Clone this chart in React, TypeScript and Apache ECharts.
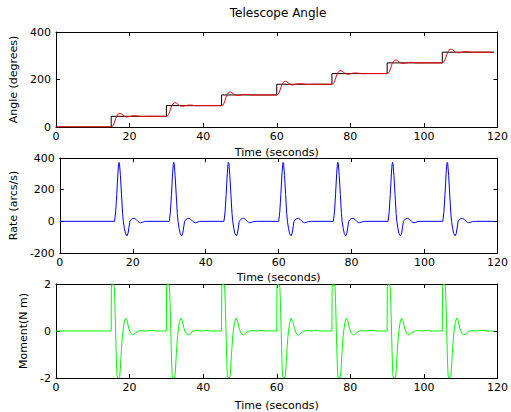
import React, { useEffect, useRef } from "react";
import * as echarts from "echarts";

// Step commands (seconds) and commanded angle levels (degrees)
const stepTimes = [15, 30, 45, 60, 75, 90, 105];
const stepLevels = [0, 45, 90, 135, 180, 225, 270, 315];
const endTime = 119;

// Angle response after each step: time since step, rise above previous level (degrees)
const angleDt = [0, 0.3, 0.6, 0.9, 1.2, 1.5, 1.8, 2.1, 2.4, 2.8, 3.2, 3.6, 4.0, 4.4, 5.0, 5.7, 6.4, 7.1, 7.8, 8.6, 9.5];
const angleRise = [0, 2, 8, 20, 35, 46, 53, 56.5, 57.5, 55, 50, 45.5, 43, 42.5, 44, 46.5, 47.5, 46.5, 45, 44.5, 45];

// Rate pulse after each step: time since step, rate (arcs/s)
const rateDt = [0, 0.3, 0.6, 0.9, 1.1, 1.2, 1.35, 1.6, 1.9, 2.2, 2.4, 2.7, 3.0, 3.4, 3.7, 4.0, 4.2, 4.6, 5.0, 5.4, 5.9, 6.4, 6.8, 7.1, 7.6, 8.2, 9.0];
const rateVal = [0, 60, 170, 300, 360, 372, 365, 290, 170, 50, 0, -45, -78, -92, -75, -30, 0, 12, 18, 19, 12, 0, -7, -9, -6, -1, 0];

// Moment pulse after each step: time since step, moment (N m)
const momentDt = [0, 0.05, 0.15, 0.4, 0.7, 0.85, 1.0, 1.2, 1.4, 1.55, 1.7, 2.0, 2.3, 2.45, 2.7, 3.0, 3.2, 3.5, 3.9, 4.3, 4.8, 5.3, 5.9, 6.5, 7.2, 8.0, 9.5, 11.0, 12.0, 13.0];
const momentVal = [0, 1.85, 1.97, 2.0, 1.97, 1.85, 1.2, 0, -1.2, -1.85, -1.98, -2.0, -1.95, -1.7, -1.0, -0.3, 0, 0.35, 0.55, 0.45, 0.1, -0.1, -0.17, -0.1, -0.02, 0.02, 0.0, 0.03, 0.0, 0.0];

const xTicks = { min: 0, max: 120, interval: 20 };
const angleAxis = { min: 0, max: 400, interval: 200 };
const rateAxis = { min: -200, max: 400, interval: 200 };
const momentAxis = { min: -2, max: 2, interval: 2 };

const FONT = "DejaVu Sans";

function buildCommand(): number[][] {
  const pts: number[][] = [[0, stepLevels[0]]];
  stepTimes.forEach((t, i) => {
    pts.push([t, stepLevels[i]]);
    pts.push([t, stepLevels[i + 1]]);
  });
  pts.push([endTime, stepLevels[stepLevels.length - 1]]);
  return pts;
}

function buildAngle(): number[][] {
  const pts: number[][] = [[0, stepLevels[0]]];
  stepTimes.forEach((t, i) => {
    angleDt.forEach((d, j) => pts.push([t + d, stepLevels[i] + angleRise[j]]));
  });
  pts.push([endTime, stepLevels[stepLevels.length - 1]]);
  return pts;
}

function buildPulse(dts: number[], vals: number[]): number[][] {
  const pts: number[][] = [[0, 0]];
  stepTimes.forEach((t) => {
    dts.forEach((d, j) => pts.push([t + d, vals[j]]));
  });
  pts.push([endTime, 0]);
  return pts;
}

const grids = [
  { left: 56, right: 11, top: 32, height: 95 },
  { left: 56, right: 11, top: 158, height: 95 },
  { left: 56, right: 11, top: 284, height: 94 },
];

const yNames = ["Angle (degrees)", "Rate (arcs/s)", "Moment(N m)"];
const yGaps = [30, 38, 19];
const xGaps = [20, 19, 22];
const yRanges = [angleAxis, rateAxis, momentAxis];

export default function App() {
  const ref = useRef<HTMLDivElement>(null);
  useEffect(() => {
    if (!ref.current) return;
    const chart = echarts.init(ref.current, undefined, { renderer: "svg" });
    const txt = { color: "#000", fontFamily: FONT, fontSize: 11 };
    const lineStyle = { color: "#000", width: 1 };
    const xAxes: any[] = [];
    const yAxes: any[] = [];
    grids.forEach((_, i) => {
      xAxes.push({
        type: "value", gridIndex: i, position: "bottom", ...xTicks,
        axisLine: { show: true, onZero: false, lineStyle },
        axisTick: { show: true, inside: true, length: 4, lineStyle },
        axisLabel: { ...txt, margin: 4 },
        splitLine: { show: false },
        name: "Time (seconds)", nameLocation: "middle", nameGap: xGaps[i],
        nameTextStyle: txt,
      });
      xAxes.push({
        type: "value", gridIndex: i, position: "top", ...xTicks,
        axisLine: { show: true, onZero: false, lineStyle },
        axisTick: { show: true, inside: true, length: 4, lineStyle },
        axisLabel: { show: false },
        splitLine: { show: false },
      });
      yAxes.push({
        type: "value", gridIndex: i, position: "left", ...yRanges[i],
        axisLine: { show: true, onZero: false, lineStyle },
        axisTick: { show: true, inside: true, length: 4, lineStyle },
        axisLabel: { ...txt, margin: 5 },
        splitLine: { show: false },
        name: yNames[i], nameLocation: "middle", nameGap: yGaps[i],
        nameTextStyle: txt,
      });
      yAxes.push({
        type: "value", gridIndex: i, position: "right", ...yRanges[i],
        axisLine: { show: true, onZero: false, lineStyle },
        axisTick: { show: true, inside: true, length: 4, lineStyle },
        axisLabel: { show: false },
        splitLine: { show: false },
      });
    });
    const line = (data: number[][], color: string, axis: number, z: number) => ({
      type: "line", data, xAxisIndex: axis * 2, yAxisIndex: axis * 2,
      showSymbol: false, symbol: "none", clip: true, z,
      lineStyle: { color, width: 1 }, itemStyle: { color },
    });
    chart.setOption({
      animation: false,
      backgroundColor: "#fff",
      grid: grids,
      xAxis: xAxes,
      yAxis: yAxes,
      graphic: [
        {
          type: "text", x: 278, y: 13,
          style: { text: "Telescope Angle", align: "center", verticalAlign: "middle", fill: "#000", font: `12px "${FONT}"` },
        },
      ],
      series: [
        line(buildCommand(), "#000000", 0, 2),
        line(buildAngle(), "#ff0000", 0, 3),
        line(buildPulse(rateDt, rateVal), "#0000ff", 1, 2),
        line(buildPulse(momentDt, momentVal), "#00ff00", 2, 2),
      ],
    });
    return () => chart.dispose();
  }, []);
  return <div ref={ref} style={{ position: "fixed", left: 0, top: 0, width: 511, height: 412, background: "#fff" }} />;
}
